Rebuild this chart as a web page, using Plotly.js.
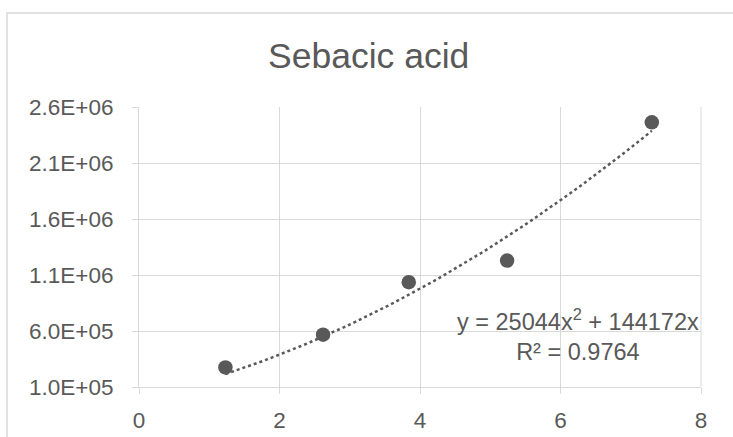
<!DOCTYPE html>
<html>
<head>
<meta charset="utf-8">
<script src="https://cdn.plot.ly/plotly-3.0.1.min.js"></script>
<style>html,body{margin:0;padding:0;background:#fff;}#chart{width:733px;height:437px;}</style>
</head>
<body>
<div id="chart"></div>
<script>
// Data
const xValues = [1.23, 2.62, 3.84, 5.24, 7.30];
const yValues = [275000, 567000, 1036000, 1229000, 2463000];

// Trendline coefficients shown on the chart (polynomial, order 2, intercept 0)
const coefA = 25044;
const coefB = 144172;
const rSquared = 0.9764;

// Axis ticks
const xTickVals = [0, 2, 4, 6, 8];
const xTickText = ["0", "2", "4", "6", "8"];
const yTickVals = [100000, 600000, 1100000, 1600000, 2100000, 2600000];
const yTickText = ["1.0E+05", "6.0E+05", "1.1E+06", "1.6E+06", "2.1E+06", "2.6E+06"];

const titleText = "Sebacic acid";

// Build trendline over the data range
const xMin = Math.min(...xValues), xMax = Math.max(...xValues);
const trendX = [], trendY = [];
const nSteps = 60;
for (let i = 0; i <= nSteps; i++) {
  const x = xMin + (xMax - xMin) * i / nSteps;
  trendX.push(x);
  trendY.push(coefA * x * x + coefB * x);
}

const gray = "#595959";
const gridGray = "#d9d9d9";
const fontFam = "Liberation Sans, Arial, sans-serif";

const traces = [
  {
    x: trendX, y: trendY, type: "scatter", mode: "lines",
    line: {color: gray, width: 2.5, dash: "dot"},
    hoverinfo: "skip", showlegend: false
  },
  {
    x: xValues, y: yValues, type: "scatter", mode: "markers",
    marker: {color: gray, size: 14.5},
    showlegend: false, cliponaxis: false
  }
];

const layout = {
  width: 733, height: 437,
  margin: {l: 139, r: 32, t: 107, b: 50},
  paper_bgcolor: "#fff", plot_bgcolor: "#fff",
  font: {family: fontFam, color: gray, size: 22},
  showlegend: false,
  title: {
    text: titleText,
    font: {family: fontFam, size: 35.5, color: gray},
    xref: "container", x: 0.503, xanchor: "center",
    yref: "container", y: 0.872, yanchor: "middle"
  },
  xaxis: {
    range: [0, 8], tickvals: xTickVals, ticktext: xTickText,
    showgrid: true, gridcolor: gridGray, gridwidth: 1,
    showline: true, linecolor: gridGray, linewidth: 1,
    ticks: "outside", ticklen: 6, tickcolor: gridGray, tickwidth: 1,
    zeroline: false, ticklabelstandoff: 7,
    tickfont: {family: fontFam, size: 22.5, color: gray}
  },
  yaxis: {
    range: [100000, 2600000], tickvals: yTickVals, ticktext: yTickText,
    showgrid: true, gridcolor: gridGray, gridwidth: 1,
    showline: true, linecolor: gridGray, linewidth: 1,
    ticks: "outside", ticklen: 6, tickcolor: gridGray, tickwidth: 1,
    zeroline: false, ticklabelstandoff: 14,
    tickfont: {family: fontFam, size: 22.5, color: gray}
  },
  shapes: [
    {
      type: "rect", xref: "paper", yref: "paper",
      x0: -0.2349, x1: 2, y0: -1, y1: 1.3357,
      line: {color: gridGray, width: 1.5}, fillcolor: "rgba(0,0,0,0)", layer: "below"
    },
    {
      type: "line", xref: "paper", yref: "paper",
      x0: 1, x1: 1, y0: 0, y1: 1,
      line: {color: gridGray, width: 1}
    }
  ],
  annotations: [
    {
      xref: "x", yref: "y", x: 6.25, y: 560000,
      xanchor: "center", yanchor: "middle", showarrow: false, align: "center",
      text: "y = " + coefA + "x<sup>2</sup> + " + coefB + "x<br>R² = " + rSquared,
      font: {family: fontFam, size: 23.5, color: gray}
    }
  ]
};

Plotly.newPlot("chart", traces, layout, {displayModeBar: false, staticPlot: true});
</script>
</body>
</html>
